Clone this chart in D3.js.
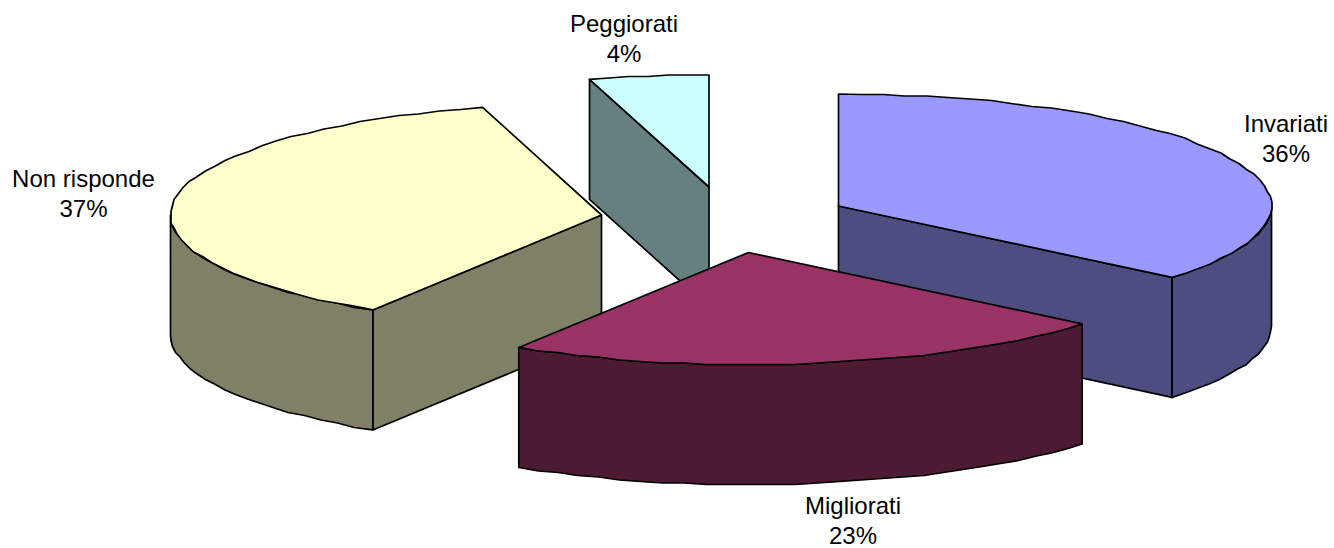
<!DOCTYPE html>
<html><head><meta charset="utf-8">
<script src="https://cdn.jsdelivr.net/npm/d3@7/dist/d3.min.js"></script>
<style>html,body{margin:0;padding:0;background:#fff}svg{display:block}text{font-family:"Liberation Sans",Arial,sans-serif;fill:#000}</style>
</head><body><svg id="c" width="1334" height="548"></svg>
<script>
const categories = ["Invariati","Migliorati","Non risponde","Peggiorati"];
const values = [36.0,22.9,36.65,4.45];
const percentLabels = ["36%","23%","37%","4%"];
const topColors = ["#9999FF","#993366","#FFFFCC","#CCFFFF"];
const sideColors = ["#4D4D80","#4D1A33","#808066","#668080"];
const centers = [[838.5,206],[748.5,252.5],[601.5,215],[709,187]];
const radiiX = [433,433,431,433];
const labelPos = [[1286,132],[853,514],[83.5,187],[624,32]];
const drawOrder = [3,0,2,1];
const RY=112, DEPTH=120, STEP=Math.PI/60, GRID=1.5, LINE_GAP=30, FONT=24;

const svg=d3.select("#c");
const arcs=d3.pie().sort(null).value(d=>d)(values);
const uy=d3.scaleLinear().domain([-1,1]).range([-RY,RY]);
const line=d3.line();

function pt(i,a,dz){
  const ux=d3.scaleLinear().domain([-1,1]).range([-radiiX[i],radiiX[i]]);
  return [centers[i][0]+ux(Math.sin(a)),centers[i][1]+uy(-Math.cos(a))+(dz||0)];
}
function rim(i,a0,a1,dz){
  const out=[];
  const n=Math.max(1,Math.ceil((a1-a0)/STEP));
  for(let k=0;k<=n;k++){
    const p=pt(i,a0+(a1-a0)*k/n,0);
    const q=(k===0||k===n)?p:[Math.round(p[0]/GRID)*GRID,Math.round(p[1]/GRID)*GRID];
    out.push([q[0],q[1]+(dz||0)]);
  }
  return out;
}
const q1=Math.PI/2,q3=3*Math.PI/2;
function draw(pts,fill){
  svg.append("path").attr("d",line(pts)+"Z").attr("fill",fill)
    .attr("stroke","#000").attr("stroke-width",1.7).attr("stroke-linejoin","round");
}
drawOrder.forEach(i=>{
  const a=arcs[i], c=[centers[i][0],centers[i][1]];
  const side=sideColors[i];
  [[a.startAngle,"start"],[a.endAngle,"end"]].forEach(([ang,kind])=>{
    const s=Math.sin(ang);
    const vis=(kind==="end"&&s>1e-6)||(kind==="start"&&s<-1e-6);
    if(vis){
      const p=pt(i,ang,0),pb=pt(i,ang,DEPTH);
      draw([c,p,pb,[c[0],c[1]+DEPTH]],side);
    }
  });
  const a0=Math.max(a.startAngle,q1),a1=Math.min(a.endAngle,q3);
  if(a1>a0){
    draw(rim(i,a0,a1,0).concat(rim(i,a0,a1,DEPTH).reverse()),side);
  }
  draw([c].concat(rim(i,a.startAngle,a.endAngle,0)),topColors[i]);
});
categories.forEach((name,i)=>{
  const t=svg.append("text").attr("text-anchor","middle").attr("font-size",FONT);
  t.append("tspan").attr("x",labelPos[i][0]).attr("y",labelPos[i][1]).text(name);
  t.append("tspan").attr("x",labelPos[i][0]).attr("y",labelPos[i][1]+LINE_GAP).text(percentLabels[i]);
});
</script></body></html>
